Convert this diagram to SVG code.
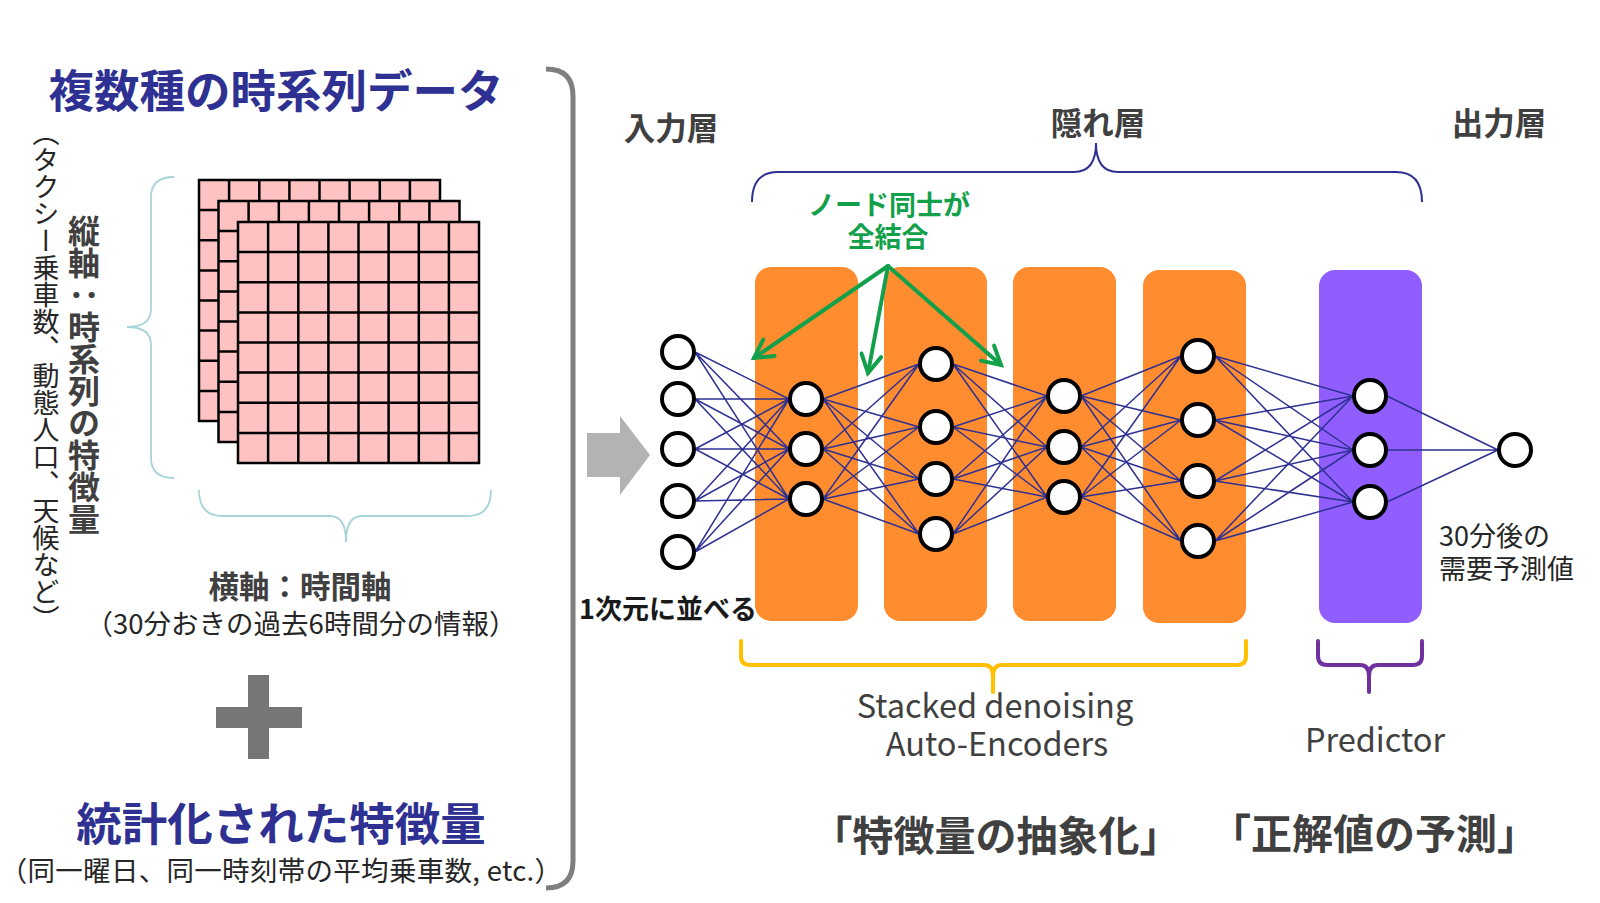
<svg xmlns="http://www.w3.org/2000/svg" width="1600" height="903" viewBox="0 0 1600 903">
<style>
.jp{font-family:"Noto Sans CJK JP","Noto Sans",sans-serif}
.b{font-weight:700}
.navy{fill:#2E3192}
.dg{fill:#404040}
.grn{fill:#12A04A}
.cell{fill:#FFC2C2;stroke:#000;stroke-width:2.5}
.gl{stroke:#000;stroke-width:2.5;fill:none}
.box{fill:#FF8C2E}
.nd{fill:#fff;stroke:#000;stroke-width:4}
.cn{stroke:#2E3192;stroke-width:1.5;fill:none}
.ga{stroke:#12A04A;stroke-width:4;fill:none;stroke-linecap:round}
.vt{writing-mode:vertical-rl}
</style>
<defs>
<marker id="ah" markerUnits="userSpaceOnUse" viewBox="-22 -12 26 24" markerWidth="26" markerHeight="24" refX="0" refY="0" orient="auto">
<path d="M-18,-10 L0,0 L-18,10" fill="none" stroke="#12A04A" stroke-width="4" stroke-linecap="round" stroke-linejoin="miter"/>
</marker>
</defs>
<rect width="1600" height="903" fill="#fff"/>

<!-- left panel -->
<g id="title-timeseries"><text class="jp b navy" x="276" y="108" font-size="45.5" text-anchor="middle">複数種の時系列データ</text></g>

<g id="label-vertical-sub"><text class="jp vt" x="46" y="119" font-size="27" fill="#262626">（タクシー乗車数、動態人口、天候など）</text></g>
<g id="label-vertical-axis"><text class="jp b dg vt" x="84" y="215" font-size="32">縦軸：時系列の特徴量</text></g>

<g id="brace-left"><path d="M174,177 Q151,177 151,197 L151,309 Q151,327 127,327 Q151,327 151,345 L151,458 Q151,478 174,478" fill="none" stroke="#A8D4DA" stroke-width="1.8"/></g>

<g id="grid-back">
<rect x="199" y="180" width="241" height="241" class="cell"/>
<path class="gl" d="M229.1,180V421M259.3,180V421M289.4,180V421M319.5,180V421M349.6,180V421M379.8,180V421M409.9,180V421M199,210.1H440M199,240.3H440M199,270.4H440M199,300.5H440M199,330.6H440M199,360.8H440M199,390.9H440"/>
</g>
<g id="grid-middle">
<rect x="218.5" y="201" width="241" height="241" class="cell"/>
<path class="gl" d="M248.6,201V442M278.8,201V442M308.9,201V442M339,201V442M369.1,201V442M399.3,201V442M429.4,201V442M218.5,231.1H459.5M218.5,261.3H459.5M218.5,291.4H459.5M218.5,321.5H459.5M218.5,351.6H459.5M218.5,381.8H459.5M218.5,411.9H459.5"/>
</g>
<g id="grid-front">
<rect x="238" y="222" width="241" height="241" class="cell"/>
<path class="gl" d="M268.1,222V463M298.3,222V463M328.4,222V463M358.5,222V463M388.6,222V463M418.8,222V463M448.9,222V463M238,252.1H479M238,282.3H479M238,312.4H479M238,342.5H479M238,372.6H479M238,402.8H479M238,432.9H479"/>
</g>

<g id="brace-bottom"><path d="M199,490 Q199,516 222,516 L330,516 Q346,516 346,542 Q346,516 362,516 L468,516 Q491,516 491,490" fill="none" stroke="#A8D4DA" stroke-width="1.8"/></g>

<g id="label-horizontal-axis">
<text class="jp b dg" x="300" y="598" font-size="30.5" text-anchor="middle">横軸：時間軸</text>
<text class="jp" x="301" y="634" font-size="27.5" fill="#262626" text-anchor="middle">（30分おきの過去6時間分の情報）</text>
</g>

<g id="plus"><rect x="248" y="675" width="21" height="84" fill="#767676"/><rect x="216" y="707" width="86" height="21" fill="#767676"/></g>

<g id="title-stat">
<text class="jp b navy" x="281" y="841" font-size="45.5" text-anchor="middle">統計化された特徴量</text>
<text class="jp" x="281" y="881" font-size="27.5" letter-spacing="0.3" fill="#262626" text-anchor="middle">（同一曜日、同一時刻帯の平均乗車数, etc.）</text>
</g>

<g id="bracket-big"><path d="M546,69 Q573,69 573,96 L573,861 Q573,888 546,888" fill="none" stroke="#7F7F7F" stroke-width="5"/></g>

<g id="arrow-gray"><polygon points="587,433 620,433 620,416 650,455 620,495 620,477 587,477" fill="#B3B3B3"/></g>

<!-- right panel labels -->
<g id="label-input"><text class="jp b dg" x="671" y="140" font-size="31.5" text-anchor="middle">入力層</text></g>
<g id="label-hidden"><text class="jp b dg" x="1098" y="135" font-size="31.5" text-anchor="middle">隠れ層</text></g>
<g id="label-output"><text class="jp b dg" x="1499" y="135" font-size="31.5" text-anchor="middle">出力層</text></g>

<g id="brace-hidden"><path d="M752,202 Q752,172 778,172 L1074,172 Q1096,172 1096,143 Q1096,172 1118,172 L1396,172 Q1422,172 1422,202" fill="none" stroke="#2E3192" stroke-width="2"/></g>

<g id="label-fully-connected">
<text class="jp b grn" x="889" y="215" font-size="27" text-anchor="middle">ノード同士が</text>
<text class="jp b grn" x="888" y="247" font-size="27" text-anchor="middle">全結合</text>
</g>

<g id="layer-boxes">
<rect id="sda1" x="755" y="267" width="103" height="354" rx="16" class="box"/>
<rect id="sda2" x="884" y="267" width="103" height="354" rx="16" class="box"/>
<rect id="sda3" x="1013" y="267" width="103" height="354" rx="16" class="box"/>
<rect id="sda4" x="1143" y="270" width="103" height="353" rx="16" class="box"/>
<rect id="predictor" x="1319" y="270" width="103" height="353" rx="16" fill="#905EFF"/>
</g>

<g id="green-arrows">
<path class="ga" d="M888,266 L754,358" marker-end="url(#ah)"/>
<path class="ga" d="M888,266 L868,373" marker-end="url(#ah)"/>
<path class="ga" d="M888,266 L1001,365" marker-end="url(#ah)"/>
</g>

<g id="connectors">
<path class="cn" d="M695,352L789,399M695,352L789,449M695,352L789,499M695,399L789,399M695,399L789,449M695,399L789,499M695,449L789,399M695,449L789,449M695,449L789,499M695,501L789,399M695,501L789,449M695,501L789,499M695,552L789,399M695,552L789,449M695,552L789,499"/>
<path class="cn" d="M823,399L919,364M823,399L919,427M823,399L919,479M823,399L919,534M823,449L919,364M823,449L919,427M823,449L919,479M823,449L919,534M823,499L919,364M823,499L919,427M823,499L919,479M823,499L919,534"/>
<path class="cn" d="M953,364L1047,396M953,364L1047,447M953,364L1047,497M953,427L1047,396M953,427L1047,447M953,427L1047,497M953,479L1047,396M953,479L1047,447M953,479L1047,497M953,534L1047,396M953,534L1047,447M953,534L1047,497"/>
<path class="cn" d="M1081,396L1181,356M1081,396L1181,420M1081,396L1181,481M1081,396L1181,541M1081,447L1181,356M1081,447L1181,420M1081,447L1181,481M1081,447L1181,541M1081,497L1181,356M1081,497L1181,420M1081,497L1181,481M1081,497L1181,541"/>
<path class="cn" d="M1215,356L1353,396M1215,356L1353,450M1215,356L1353,502M1215,420L1353,396M1215,420L1353,450M1215,420L1353,502M1215,481L1353,396M1215,481L1353,450M1215,481L1353,502M1215,541L1353,396M1215,541L1353,450M1215,541L1353,502"/>
<path class="cn" d="M1387,396L1498,450M1387,450L1498,450M1387,502L1498,450"/>
</g>

<g id="nodes-input">
<circle cx="678" cy="352" r="16" class="nd"/><circle cx="678" cy="399" r="16" class="nd"/><circle cx="678" cy="449" r="16" class="nd"/><circle cx="678" cy="501" r="16" class="nd"/><circle cx="678" cy="552" r="16" class="nd"/>
</g>
<g id="nodes-h1"><circle cx="806" cy="399" r="16" class="nd"/><circle cx="806" cy="449" r="16" class="nd"/><circle cx="806" cy="499" r="16" class="nd"/></g>
<g id="nodes-h2"><circle cx="936" cy="364" r="16" class="nd"/><circle cx="936" cy="427" r="16" class="nd"/><circle cx="936" cy="479" r="16" class="nd"/><circle cx="936" cy="534" r="16" class="nd"/></g>
<g id="nodes-h3"><circle cx="1064" cy="396" r="16" class="nd"/><circle cx="1064" cy="447" r="16" class="nd"/><circle cx="1064" cy="497" r="16" class="nd"/></g>
<g id="nodes-h4"><circle cx="1198" cy="356" r="16" class="nd"/><circle cx="1198" cy="420" r="16" class="nd"/><circle cx="1198" cy="481" r="16" class="nd"/><circle cx="1198" cy="541" r="16" class="nd"/></g>
<g id="nodes-pred"><circle cx="1370" cy="396" r="16" class="nd"/><circle cx="1370" cy="450" r="16" class="nd"/><circle cx="1370" cy="502" r="16" class="nd"/></g>
<g id="node-output"><circle cx="1515" cy="450" r="16" class="nd"/></g>

<g id="label-flatten"><text class="jp b" x="579" y="619" font-size="27" fill="#1A1A1A">1次元に並べる</text></g>
<g id="label-prediction">
<text class="jp" x="1439" y="546" font-size="27" fill="#262626">30分後の</text>
<text class="jp" x="1439" y="579" font-size="27" fill="#262626">需要予測値</text>
</g>

<g id="brace-sda"><path d="M741,641 L741,656 Q741,665 750,665 L984,665 Q993,665 993,676 L993,692 M993,676 Q993,665 1002,665 L1237,665 Q1246,665 1246,656 L1246,641" fill="none" stroke="#FFC000" stroke-width="4" stroke-linecap="round"/></g>
<g id="brace-pred"><path d="M1318,641 L1318,656 Q1318,665 1327,665 L1360,665 Q1369,665 1369,676 L1369,692 M1369,676 Q1369,665 1378,665 L1413,665 Q1422,665 1422,656 L1422,641" fill="none" stroke="#7030A0" stroke-width="4" stroke-linecap="round"/></g>

<g id="label-sda">
<text class="jp dg" x="995" y="718" font-size="32.5" text-anchor="middle">Stacked denoising</text>
<text class="jp dg" x="997" y="756" font-size="32.5" text-anchor="middle">Auto-Encoders</text>
</g>
<g id="label-predictor"><text class="jp dg" x="1375" y="752" font-size="32.5" text-anchor="middle">Predictor</text></g>

<g id="label-abstraction"><text class="jp b dg" x="996" y="851" font-size="41" text-anchor="middle">「特徴量の抽象化」</text></g>
<g id="label-correct"><text class="jp b dg" x="1374" y="849" font-size="41" text-anchor="middle">「正解値の予測」</text></g>
</svg>
